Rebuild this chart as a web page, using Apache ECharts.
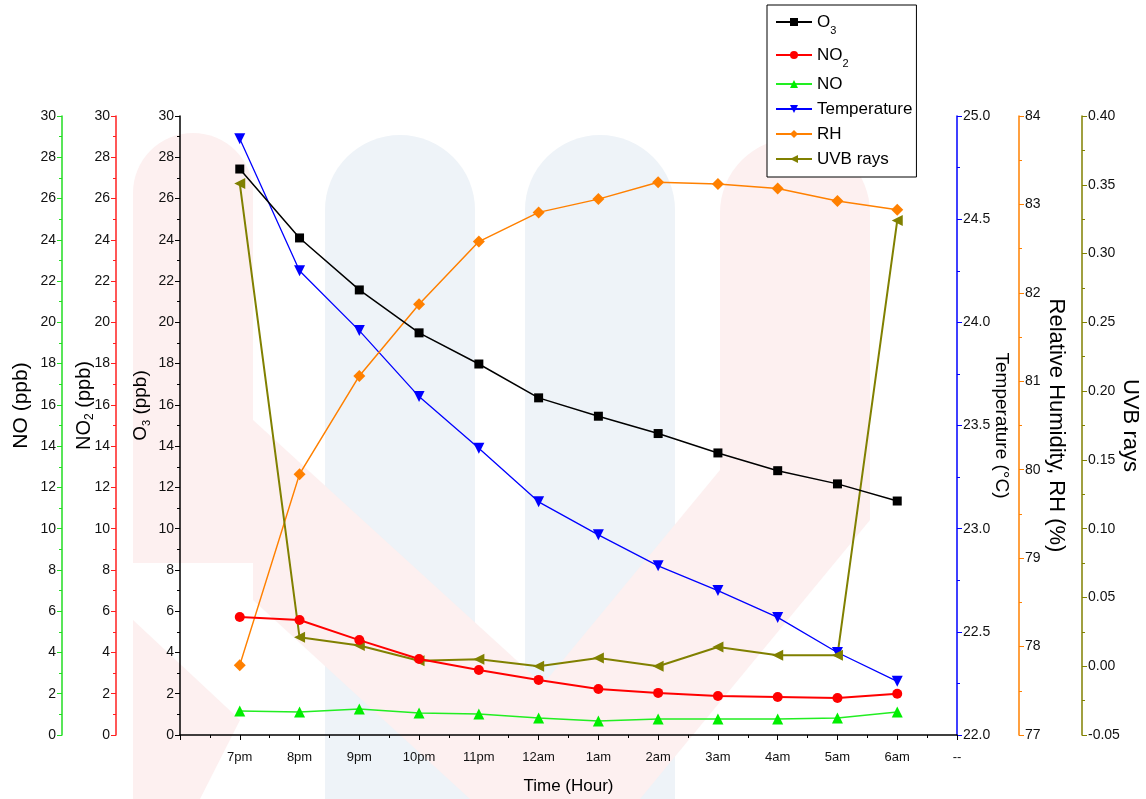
<!DOCTYPE html>
<html>
<head>
<meta charset="utf-8">
<script src="https://cdn.jsdelivr.net/npm/echarts@6/dist/echarts.min.js"></script>
<style>html,body{margin:0;padding:0;background:#fff}#c{width:1146px;height:799px}</style>
</head>
<body>
<div id="c"></div>
<script>
// ---- data ----
const tickLabels = ['', '7pm', '8pm', '9pm', '10pm', '11pm', '12am', '1am', '2am', '3am', '4am', '5am', '6am', '--'];
const hours = ['7pm', '8pm', '9pm', '10pm', '11pm', '12am', '1am', '2am', '3am', '4am', '5am', '6am'];
const o3 = [27.43, 24.09, 21.57, 19.49, 17.98, 16.34, 15.45, 14.61, 13.67, 12.81, 12.17, 11.34];
const no2 = [5.72, 5.57, 4.60, 3.68, 3.15, 2.67, 2.23, 2.04, 1.89, 1.84, 1.79, 2.00];
const no = [1.16, 1.11, 1.26, 1.07, 1.02, 0.82, 0.68, 0.78, 0.78, 0.78, 0.82, 1.11];
const temperature = [24.89, 24.25, 23.96, 23.64, 23.39, 23.13, 22.97, 22.82, 22.70, 22.57, 22.40, 22.26];
const rh = [77.79, 79.95, 81.06, 81.87, 82.58, 82.91, 83.06, 83.25, 83.23, 83.18, 83.04, 82.94];
const uvb = [0.351, 0.021, 0.015, 0.004, 0.005, 0.000, 0.006, 0.000, 0.014, 0.008, 0.008, 0.324];

const pts = arr => arr.map((v, i) => [tickLabels.indexOf(hours[i]), v]);

const FONT = 'Liberation Sans, Arial, sans-serif';
const chart = echarts.init(document.getElementById('c'), null, {renderer: 'canvas'});

function yAxis(o) {
  return Object.assign({
    type: 'value',
    nameLocation: 'middle',
    nameMoveOverlap: false,
    splitLine: {show: false},
    axisLine: {show: true, onZero: false, lineStyle: {color: o.color, width: 1.5}},
    axisTick: {show: true, length: 5, lineStyle: {color: o.color}},
    minorTick: {show: true, splitNumber: 2, length: 3, lineStyle: {color: o.color}},
    axisLabel: {color: '#111', fontSize: 14, fontFamily: FONT, margin: 6},
    nameTextStyle: {color: '#000', fontFamily: FONT, fontSize: 20},
  }, o.extra);
}

const leftNameRich = size => ({
  n: {fontSize: size, fontFamily: FONT, color: '#000'},
  s: {fontSize: Math.round(size * 0.6), fontFamily: FONT, color: '#000', padding: [Math.round(size * 0.6), 0, 0, 0]}
});

const option = {
  backgroundColor: '#fff',
  animation: false,
  graphic: [
    {type: 'rect', z: -10, silent: true, shape: {x: 325, y: 135, width: 150, height: 664, r: [75, 75, 0, 0]}, style: {fill: '#eef3f8'}},
    {type: 'rect', z: -10, silent: true, shape: {x: 525, y: 135, width: 150, height: 664, r: [75, 75, 0, 0]}, style: {fill: '#eef3f8'}},
    {type: 'rect', z: -9, silent: true, shape: {x: 133, y: 133, width: 120, height: 430, r: [60, 60, 0, 0]}, style: {fill: '#fdf0f0'}},
    {type: 'rect', z: -9, silent: true, shape: {x: 720, y: 138, width: 150, height: 360, r: [75, 75, 0, 0]}, style: {fill: '#fdf0f0'}},
    {type: 'polygon', z: -9, silent: true, shape: {points: [[253, 420], [253, 600], [470, 799], [560, 799], [560, 700]]}, style: {fill: '#fdf0f0'}},
    {type: 'polygon', z: -9, silent: true, shape: {points: [[870, 330], [870, 520], [640, 799], [530, 799], [530, 700], [720, 470]]}, style: {fill: '#fdf0f0'}},
    {type: 'polygon', z: -9, silent: true, shape: {points: [[133, 620], [240, 720], [200, 799], [133, 799]]}, style: {fill: '#fdf0f0'}}
  ],
  grid: {left: 180, right: 189, top: 116, bottom: 64, containLabel: false, outerBoundsMode: 'none'},
  legend: {
    orient: 'vertical',
    left: 767, top: 5,
    backgroundColor: '#fff',
    borderColor: '#000', borderWidth: 1,
    padding: [3, 4, 8, 8],
    itemWidth: 36, itemHeight: 10, itemGap: 5,
    textStyle: {fontSize: 17, fontFamily: FONT, color: '#000', lineHeight: 20, rich: {
      n: {fontSize: 17, fontFamily: FONT, color: '#000', lineHeight: 20},
      s: {fontSize: 11, fontFamily: FONT, color: '#000', lineHeight: 14, padding: [17, 0, 0, 0]}
    }},
    formatter: function (name) {
      if (name === 'O3') return '{n|O}{s|3}';
      if (name === 'NO2') return '{n|NO}{s|2}';
      return name;
    },
    data: ['O3', 'NO2', 'NO', 'Temperature', 'RH', 'UVB rays']
  },
  xAxis: {
    type: 'value', min: 0, max: 13, interval: 1,
    name: 'Time (Hour)', nameLocation: 'middle', nameGap: 43, nameMoveOverlap: false,
    nameTextStyle: {fontSize: 17, fontFamily: FONT, color: '#000'},
    splitLine: {show: false},
    axisLine: {show: true, onZero: false, lineStyle: {color: '#000', width: 1.5}},
    axisTick: {show: true, length: 5, lineStyle: {color: '#000'}},
    minorTick: {show: true, splitNumber: 2, length: 3, lineStyle: {color: '#000'}},
    axisLabel: {color: '#111', fontSize: 13, fontFamily: FONT, margin: 16, formatter: v => tickLabels[v] || ''}
  },
  yAxis: [
    yAxis({color: '#000', extra: {position: 'left', offset: 0, min: 0, max: 30, interval: 2,
      name: '{n|O}{s|3}{n| (ppb)}', nameGap: 28,
      nameTextStyle: {color: '#000', fontFamily: FONT, padding: [0, 0, 0, 40], rich: leftNameRich(19)}}}),
    yAxis({color: '#ff2020', extra: {position: 'left', offset: 64, min: 0, max: 30, interval: 2,
      name: '{n|NO}{s|2}{n| (ppb)}', nameGap: 20,
      nameTextStyle: {color: '#000', fontFamily: FONT, padding: [0, 0, 0, 40], rich: leftNameRich(20)}}}),
    yAxis({color: '#22dd22', extra: {position: 'left', offset: 118, min: 0, max: 30, interval: 2,
      name: 'NO (ppb)', nameGap: 30,
      nameTextStyle: {color: '#000', fontFamily: FONT, fontSize: 21, padding: [0, 0, 0, 40]}}}),
    yAxis({color: '#0000ff', extra: {position: 'right', offset: 0, min: 22, max: 25, interval: 0.5,
      name: 'Temperature (°C)', nameGap: 35, nameRotate: -90,
      nameTextStyle: {color: '#000', fontFamily: FONT, fontSize: 19},
      axisLabel: {color: '#111', fontSize: 14, fontFamily: FONT, margin: 6, formatter: v => v.toFixed(1)}}}),
    yAxis({color: '#ff8000', extra: {position: 'right', offset: 62, min: 77, max: 84, interval: 1,
      name: 'Relative Humidity, RH (%)', nameGap: 26, nameRotate: -90,
      nameTextStyle: {color: '#000', fontFamily: FONT, fontSize: 22}}}),
    yAxis({color: '#808000', extra: {position: 'right', offset: 125, min: -0.05, max: 0.40, interval: 0.05,
      name: 'UVB rays', nameGap: 37, nameRotate: -90,
      nameTextStyle: {color: '#000', fontFamily: FONT, fontSize: 22},
      axisLabel: {color: '#111', fontSize: 14, fontFamily: FONT, margin: 6, formatter: v => v.toFixed(2)}}})
  ],
  series: [
    {name: 'O3', type: 'line', yAxisIndex: 0, data: pts(o3), symbol: 'rect', symbolSize: 9,
      itemStyle: {color: '#000'}, lineStyle: {color: '#000', width: 1.5}, z: 6},
    {name: 'NO2', type: 'line', yAxisIndex: 1, data: pts(no2), symbol: 'circle', symbolSize: 10,
      itemStyle: {color: '#ff0000'}, lineStyle: {color: '#ff0000', width: 2}, z: 5},
    {name: 'NO', type: 'line', yAxisIndex: 2, data: pts(no), symbol: 'triangle', symbolSize: 11,
      itemStyle: {color: '#00ee00'}, lineStyle: {color: '#22ee22', width: 1.5}, z: 5},
    {name: 'Temperature', type: 'line', yAxisIndex: 3, data: pts(temperature), symbol: 'triangle', symbolRotate: 180, symbolSize: 11,
      itemStyle: {color: '#0000ff'}, lineStyle: {color: '#0000ff', width: 1.3}, z: 4},
    {name: 'RH', type: 'line', yAxisIndex: 4, data: pts(rh), symbol: 'diamond', symbolSize: 12,
      itemStyle: {color: '#ff8000'}, lineStyle: {color: '#ff8000', width: 1.5}, z: 4},
    {name: 'UVB rays', type: 'line', yAxisIndex: 5, data: pts(uvb), symbol: 'triangle', symbolRotate: 90, symbolSize: 11,
      itemStyle: {color: '#808000'}, lineStyle: {color: '#808000', width: 2}, z: 4}
  ]
};
chart.setOption(option);
</script>
</body>
</html>
